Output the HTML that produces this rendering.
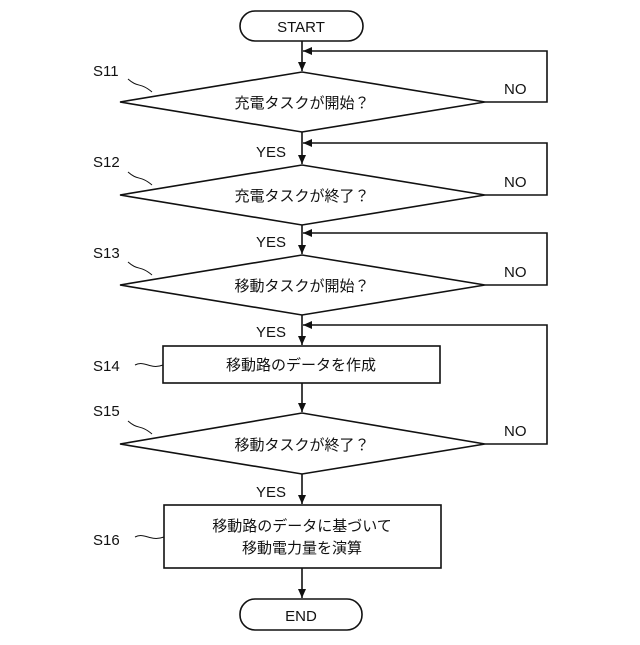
<!DOCTYPE html>
<html><head><meta charset="utf-8"><style>
body{margin:0;background:#fff}
text{font-family:"Liberation Sans","Noto Sans CJK JP",sans-serif;fill:#111}
</style></head><body>
<svg width="640" height="640" viewBox="0 0 640 640" xmlns="http://www.w3.org/2000/svg">
<defs><marker id="a" markerWidth="10" markerHeight="10" refX="9" refY="5" orient="auto" markerUnits="userSpaceOnUse"><path d="M0,1 L9,5 L0,9 Z" fill="#111"/></marker></defs>
<g stroke="#111" stroke-width="1.6" fill="none">
<rect x="240" y="11" width="123" height="30" rx="15"/>
<rect x="240" y="599" width="122" height="31" rx="15"/>
<polygon points="120,102 302,72 485,102 302,132"/>
<polygon points="120,195 302,165 485,195 302,225"/>
<polygon points="120,285 302,255 485,285 302,315"/>
<rect x="163" y="346" width="277" height="37"/>
<polygon points="120,444 302,413 485,444 302,474"/>
<rect x="164" y="505" width="277" height="63"/>
<line x1="302" y1="41" x2="302" y2="71" marker-end="url(#a)"/>
<line x1="302" y1="132" x2="302" y2="164" marker-end="url(#a)"/>
<line x1="302" y1="225" x2="302" y2="254" marker-end="url(#a)"/>
<line x1="302" y1="315" x2="302" y2="345" marker-end="url(#a)"/>
<line x1="302" y1="383" x2="302" y2="412" marker-end="url(#a)"/>
<line x1="302" y1="474" x2="302" y2="504" marker-end="url(#a)"/>
<line x1="302" y1="568" x2="302" y2="598" marker-end="url(#a)"/>
<polyline points="485,102 547,102 547,51 303,51" marker-end="url(#a)"/>
<polyline points="485,195 547,195 547,143 303,143" marker-end="url(#a)"/>
<polyline points="485,285 547,285 547,233 303,233" marker-end="url(#a)"/>
<polyline points="485,444 547,444 547,325 303,325" marker-end="url(#a)"/>
<g stroke-width="1">
<path d="M128,79 C138,88 140,82 152,92"/>
<path d="M128,172 C138,181 140,175 152,185"/>
<path d="M128,262 C138,271 140,265 152,275"/>
<path d="M135,365 C145,360 150,370 163,365"/>
<path d="M128,421 C138,430 140,424 152,434"/>
<path d="M135,537 C145,532 150,542 164,537"/>
</g>
</g>
<g font-size="15">
<text x="301" y="32" text-anchor="middle">START</text>
<text x="301" y="621" text-anchor="middle">END</text>
<text x="302" y="108" text-anchor="middle">充電タスクが開始？</text>
<text x="302" y="201" text-anchor="middle">充電タスクが終了？</text>
<text x="302" y="291" text-anchor="middle">移動タスクが開始？</text>
<text x="301" y="370" text-anchor="middle">移動路のデータを作成</text>
<text x="302" y="450" text-anchor="middle">移動タスクが終了？</text>
<text x="302" y="531" text-anchor="middle">移動路のデータに基づいて</text>
<text x="302" y="553" text-anchor="middle">移動電力量を演算</text>
<text x="256" y="157">YES</text><text x="256" y="247">YES</text><text x="256" y="337">YES</text><text x="256" y="497">YES</text>
<text x="504" y="94">NO</text><text x="504" y="187">NO</text><text x="504" y="277">NO</text><text x="504" y="436">NO</text>
<text x="93" y="76">S11</text><text x="93" y="167">S12</text><text x="93" y="258">S13</text>
<text x="93" y="371">S14</text><text x="93" y="416">S15</text><text x="93" y="545">S16</text>
</g>
</svg>
</body></html>
